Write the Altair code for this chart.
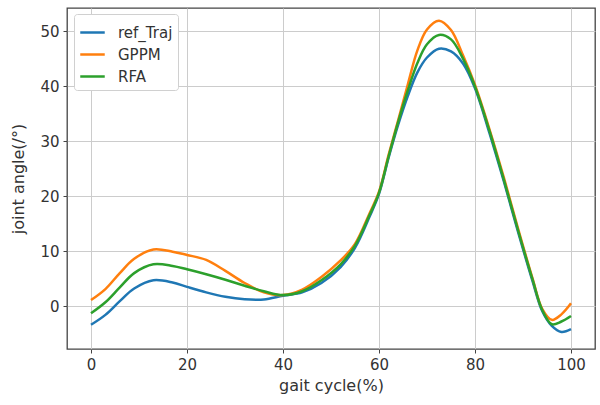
import altair as alt
import pandas as pd

# Gait cycle positions (%) shared by all trajectories
gait_cycle = [0, 3, 6, 9, 13, 17, 20, 24, 28, 32, 36, 40, 44, 48, 52, 55, 58, 60,
              62, 64, 66, 68, 70, 72.5, 75, 77.5, 80, 83, 86, 89, 92, 94, 96, 98, 100]

# Joint angle (degrees) for each method
ref_traj = [-3.4, -1.6, 0.9, 3.2, 4.7, 4.3, 3.5, 2.5, 1.7, 1.25, 1.2, 1.9, 2.5, 4.2, 7.1,
            10.6, 16.2, 20.4, 27.0, 33.0, 38.2, 42.5, 45.2, 46.8, 46.3, 44.1, 39.6,
            31.5, 22.7, 13.4, 4.5, -0.9, -3.6, -4.7, -4.2]
gppm = [1.1, 3.1, 6.0, 8.6, 10.3, 9.9, 9.3, 8.4, 6.4, 4.2, 2.5, 2.0, 3.0, 5.3, 8.3,
        11.3, 16.8, 20.8, 27.5, 33.8, 40.3, 46.5, 50.3, 51.9, 50.2, 45.6, 40.2,
        32.2, 23.4, 14.0, 5.0, -0.5, -2.5, -1.5, 0.5]
rfa = [-1.3, 0.7, 3.4, 6.0, 7.6, 7.3, 6.7, 5.8, 4.8, 3.7, 2.7, 2.0, 2.7, 4.7, 7.6,
       11.0, 16.5, 20.6, 27.2, 33.5, 39.2, 44.2, 47.6, 49.3, 48.5, 45.0, 39.9,
       31.9, 23.0, 13.7, 4.8, -0.7, -3.3, -2.8, -1.8]

series_names = ["ref_Traj", "GPPM", "RFA"]
series_colors = ["#1f77b4", "#ff7f0e", "#2ca02c"]

frames = []
for name, values in zip(series_names, [ref_traj, gppm, rfa]):
    frames.append(pd.DataFrame({"cycle": gait_cycle, "angle": values, "method": name}))
df = pd.concat(frames, ignore_index=True)
df["order"] = df["method"].map({n: i for i, n in enumerate(series_names)})

font = "DejaVu Sans"

chart = (
    alt.Chart(df)
    .mark_line(strokeWidth=2.5, interpolate="catmull-rom")
    .encode(
        x=alt.X(
            "cycle:Q",
            scale=alt.Scale(domain=[-5, 105], nice=False, zero=False),
            axis=alt.Axis(values=[0, 20, 40, 60, 80, 100], title="gait cycle(%)",
                          titlePadding=5),
        ),
        y=alt.Y(
            "angle:Q",
            scale=alt.Scale(domain=[-7.8, 54.2], nice=False, zero=False),
            axis=alt.Axis(values=[0, 10, 20, 30, 40, 50], title="joint angle(/°)",
                          titlePadding=13),
        ),
        color=alt.Color(
            "method:N",
            scale=alt.Scale(domain=series_names, range=series_colors),
            legend=alt.Legend(
                title=None,
                orient="none",
                legendX=7,
                legendY=6,
                symbolType="stroke",
                symbolSize=600,
                symbolStrokeWidth=2.5,
                labelFontSize=15,
                labelFont=font,
                labelColor="#333333",
                fillColor="white",
                strokeColor="#d0d0d0",
                cornerRadius=3,
                padding=5,
                rowPadding=0,
                labelOffset=12,
            ),
        ),
        order="order:Q",
    )
    .properties(
        width=528,
        height=341,
        autosize=alt.AutoSizeParams(type="none"),
        padding={"left": 67, "top": 8, "right": 5, "bottom": 56},
    )
    .configure_view(stroke="#444444", strokeWidth=1.3)
    .configure_axis(
        grid=True,
        gridColor="#cccccc",
        gridWidth=1,
        domain=False,
        tickColor="#444444",
        tickSize=4,
        labelFont=font,
        labelFontSize=15,
        labelColor="#333333",
        labelPadding=4,
        titleFont=font,
        titleFontSize=16,
        titleFontWeight="normal",
        titleColor="#333333",
    )
)

chart.save("out.html", embed_options={"renderer": "svg", "actions": False})
